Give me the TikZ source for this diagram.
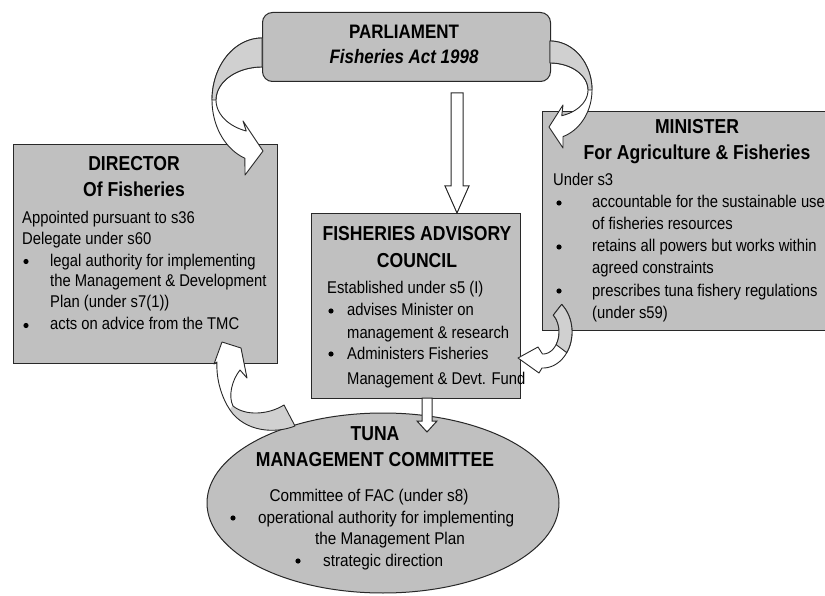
\documentclass[tikz,border=0pt]{standalone}
\usepackage{fontspec}
\setmainfont[FakeStretch=0.87]{Liberation Sans}
\newfontfamily\tmcfont[FakeStretch=0.9]{Liberation Sans}
\usetikzlibrary{shapes.geometric}
\definecolor{boxgray}{RGB}{192,192,192}
\definecolor{ribgray}{RGB}{208,208,208}
\definecolor{edge}{RGB}{40,40,40}
\begin{document}
\begin{tikzpicture}[x=1pt,y=-1pt,
  box/.style={draw=edge, line width=1pt, fill=boxgray, inner sep=0pt},
  ttl/.style={anchor=base, inner sep=0pt, font=\fontsize{20.2}{24}\selectfont\bfseries},
  ln/.style={anchor=base west, inner sep=0pt, font=\fontsize{17}{20}\selectfont},
  tln/.style={anchor=base west, inner sep=0pt, font=\tmcfont\fontsize{17}{20}\selectfont},
  bul/.style={circle, fill=black, inner sep=0pt, minimum size=5.2pt},
  rib/.style={draw=edge, line width=0.9pt, fill=white, line join=round},
  ribback/.style={draw=edge, line width=0.9pt, fill=ribgray, line join=round},
  blk/.style={draw=edge, line width=1pt, fill=white, line join=miter}]
\useasboundingbox (0,0) rectangle (825,596);
\fill[white] (0,0) rectangle (825,596);

% boxes
\node[box, rounded corners=10pt, minimum width=288pt, minimum height=69pt, anchor=north west] (parl) at (262,12) {};
\node[box, minimum width=264pt, minimum height=219pt, anchor=north west] (dir) at (13,144) {};
\node[box, minimum width=290pt, minimum height=219pt, anchor=north west] (min) at (542,111) {};
\node[box, minimum width=209pt, minimum height=185pt, anchor=north west] (fac) at (311,213) {};
\node[box, ellipse, minimum width=352pt, minimum height=180pt] (tmc) at (383,503) {};

% Parliament text
\node[ttl, font=\fontsize{19.5}{24}\selectfont\bfseries] (p1) at (404,39) {PARLIAMENT};
\node[ttl, font=\fontsize{19.5}{24}\selectfont\bfseries\itshape] (p2) at (404,64) {Fisheries Act 1998};

% Director text
\node[ttl] (d1) at (134,171) {DIRECTOR};
\node[ttl] (d2) at (134,197) {Of Fisheries};
\node[ln] (d3) at (22,224) {Appointed pursuant to s36};
\node[ln] (d4) at (22,245) {Delegate under s60};
\node[bul] (d5) at (26,261.5) {};
\node[ln] (d6) at (50,266) {legal authority for implementing};
\node[ln] (d7) at (50,287) {the Management \& Development};
\node[ln] (d8) at (50,308) {Plan (under s7(1))};
\node[bul] (d9) at (26,325.5) {};
\node[ln] (d10) at (50,330) {acts on advice from the TMC};

% Minister text
\node[ttl] (m1) at (697,134) {MINISTER};
\node[ttl] (m2) at (697,160) {For Agriculture \& Fisheries};
\node[ln] (m3) at (553,186) {Under s3};
\node[bul] (m4) at (559,203) {};
\node[ln] (m5) at (592,208) {accountable for the sustainable use};
\node[ln] (m6) at (592,230) {of fisheries resources};
\node[bul] (m7) at (559,247) {};
\node[ln] (m8) at (592,252) {retains all powers but works within};
\node[ln] (m9) at (592,274) {agreed constraints};
\node[bul] (m10) at (559,291) {};
\node[ln] (m11) at (592,296) {prescribes tuna fishery regulations};
\node[ln] (m12) at (592,318) {(under s59)};

% FAC text
\node[ttl] (f1) at (417,241) {FISHERIES ADVISORY};
\node[ttl] (f2) at (417,268) {COUNCIL};
\node[ln] (f3) at (327,294) {Established under s5 (I)};
\node[bul] (f4) at (331,311) {};
\node[ln] (f5) at (347,316) {advises Minister on};
\node[ln] (f6) at (347,338) {management \& research};
\node[bul] (f7) at (331,354) {};
\node[ln] (f8) at (347,359) {Administers Fisheries};
\node[ln] (f9) at (347,384) {Management \& Devt. Fund};

% TMC text
\node[ttl] (t1) at (375,440) {TUNA};
\node[ttl] (t2) at (375,466) {MANAGEMENT COMMITTEE};
\node[anchor=base, inner sep=0pt, font=\tmcfont\fontsize{17}{20}\selectfont] (t3) at (369,501) {Committee of FAC (under s8)};
\node[bul] (t4) at (233,518) {};
\node[tln] (t5) at (258,523) {operational authority for implementing};
\node[tln] (t6) at (315,544) {the Management Plan};
\node[bul] (t7) at (298,561) {};
\node[tln] (t8) at (323,566) {strategic direction};

% straight block arrows
\draw[blk] (451,93) -- (463,93) -- (463,186) -- (469,186) -- (457,213) -- (445,186) -- (451,186) -- cycle;
\draw[blk] (422,398) -- (432,398) -- (432,421) -- (437,421) -- (427,432) -- (417,421) -- (422,421) -- cycle;

% curved ribbon arrow: Parliament -> Director
\draw[rib] plot[domain=270:110, samples=40, variable=\t] ({262+50*cos(\t)}, {100+62*sin(\t)})
  -- (245,175) -- (263,151) -- (243,121)
  -- plot[domain=110:270, samples=40, variable=\t] ({262+46*cos(\t)}, {100+33*sin(\t)}) -- cycle;
\draw[ribback] plot[domain=270:180, samples=30, variable=\t] ({262+50*cos(\t)}, {100+62*sin(\t)})
  -- plot[domain=180:270, samples=30, variable=\t] ({262+46*cos(\t)}, {100+33*sin(\t)}) -- cycle;

% Parliament -> Minister
\draw[rib] plot[domain=-90:72, samples=40, variable=\t] ({550+42*cos(\t)}, {90+49*sin(\t)})
  -- (563,148) -- (549,127) -- (563,105)
  -- plot[domain=72:-90, samples=40, variable=\t] ({550+38*cos(\t)}, {90+27*sin(\t)}) -- cycle;
\draw[ribback] plot[domain=-90:0, samples=30, variable=\t] ({550+42*cos(\t)}, {90+49*sin(\t)})
  -- plot[domain=0:-90, samples=30, variable=\t] ({550+38*cos(\t)}, {90+27*sin(\t)}) -- cycle;

% Minister -> FAC
\draw[rib] plot[domain=-50:92, samples=40, variable=\t] ({543+29*cos(\t)}, {332+36*sin(\t)})
  -- (539,373) -- (518,358) -- (538,347)
  -- plot[domain=92:-50, samples=40, variable=\t] ({543+16*cos(\t)}, {332+22*sin(\t)}) -- cycle;
\draw[ribback] plot[domain=-50:35, samples=30, variable=\t] ({543+29*cos(\t)}, {332+36*sin(\t)})
  -- plot[domain=35:-50, samples=30, variable=\t] ({543+16*cos(\t)}, {332+22*sin(\t)}) -- cycle;

% TMC -> Director
\fill[white] (295,426) .. controls (275,434) and (245,432) .. (230,410)
  .. controls (222,398) and (216,380) .. (217,362) -- (214,364) -- (222,342) -- (241,348) -- (247,378) -- (240,370)
  .. controls (232,380) and (228,396) .. (233,406) .. controls (245,416) and (268,415) .. (284,405) -- cycle;
\begin{scope}
  \clip (295,426) .. controls (275,434) and (245,432) .. (230,410)
    .. controls (222,398) and (216,380) .. (217,362) -- (214,364) -- (222,342) -- (241,348) -- (247,378) -- (240,370)
    .. controls (232,380) and (228,396) .. (233,406) .. controls (245,416) and (268,415) .. (284,405) -- cycle;
  \fill[ribgray] (226,414) -- (236,402) -- (300,395) -- (300,445) -- (226,445) -- cycle;
\end{scope}
\draw[draw=edge, line width=0.9pt, line join=round] (295,426) .. controls (275,434) and (245,432) .. (230,410)
  .. controls (222,398) and (216,380) .. (217,362) -- (214,364) -- (222,342) -- (241,348) -- (247,378) -- (240,370)
  .. controls (232,380) and (228,396) .. (233,406) .. controls (245,416) and (268,415) .. (284,405) -- cycle;

\end{tikzpicture}
\end{document}
